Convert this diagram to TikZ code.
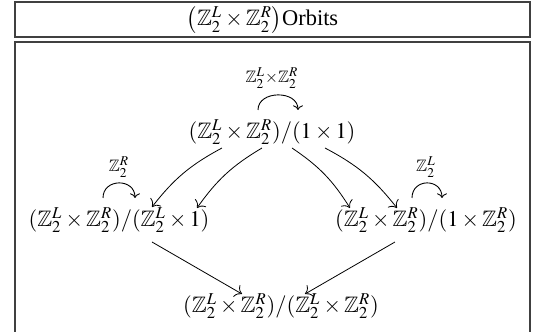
\documentclass[tikz,border=0pt]{standalone}
\usepackage{mathptmx}
\usepackage{amssymb}
\usepackage{fontspec}
\setmainfont{Liberation Serif}
\usetikzlibrary{arrows.meta}
\newcommand{\ZL}{\mathbb{Z}_2^L}
\newcommand{\ZR}{\mathbb{Z}_2^R}
\begin{document}
\begin{tikzpicture}[x=0.5pt,y=-0.5pt,
  every node/.style={font=\fontsize{11.2}{13}\selectfont, inner sep=0pt},
  framest/.style={draw=black!75, line width=0.7pt},
  arr/.style={-{To[scale=1.3]}, line width=0.4pt},
  looparr/.style={-{To[scale=0.9]}, line width=0.45pt},
  lblst/.style={font=\fontsize{11.2}{13}\selectfont}]
\useasboundingbox (0,0) rectangle (543,332);
% frames
\draw[framest] (15,2) rectangle (530,37);
\draw[framest] (15,345) -- (15,42) -- (530,42) -- (530,345);
\node (title) at (262.5,20) {$\left(\ZL\times\ZR\right)$Orbits};
% nodes
\node (t) at (272,132) {$(\ZL\times\ZR)/(1\times1)$};
\node (l) at (119,220) {$(\ZL\times\ZR)/(\ZL\times1)$};
\node (r) at (426,220) {$(\ZL\times\ZR)/(1\times\ZR)$};
\node (b) at (281,306) {$(\ZL\times\ZR)/(\ZL\times\ZR)$};
% loop labels
\node[lblst] (tl) at ([shift={(0,-54)}]t.center) {$\scriptstyle \ZL\times\ZR$};
\node[lblst] (ll) at ([shift={(0,-53)}]l.center) {$\scriptstyle \ZR$};
\node[lblst] (rl) at ([shift={(0,-53)}]r.center) {$\scriptstyle \ZL$};
% loops
\draw[looparr] ([shift={(-14,-22)}]t.center) .. controls +(0,-20) and +(0,-20) .. ([shift={(26,-22)}]t.center);
\draw[looparr] ([shift={(-16,-22)}]l.center) .. controls +(0,-20) and +(0,-20) .. ([shift={(16,-22)}]l.center);
\draw[looparr] ([shift={(-14,-22)}]r.center) .. controls +(0,-20) and +(0,-20) .. ([shift={(16,-22)}]r.center);
% arrows
\draw[arr] ([shift={(-50,16)}]t.center) to[bend right=12] ([shift={(33,-13)}]l.center);
\draw[arr] ([shift={(-10,16)}]t.center) to[bend right=12] ([shift={(78,-12)}]l.center);
\draw[arr] ([shift={(20,16)}]t.center) to[bend left=12] ([shift={(-76,-12)}]r.center);
\draw[arr] ([shift={(53,16)}]t.center) to[bend left=12] ([shift={(-29,-12)}]r.center);
\draw[arr] ([shift={(33,22)}]l.center) -- ([shift={(-39,-12)}]b.center);
\draw[arr] ([shift={(-31,22)}]r.center) -- ([shift={(24,-12)}]b.center);
\end{tikzpicture}
\end{document}
